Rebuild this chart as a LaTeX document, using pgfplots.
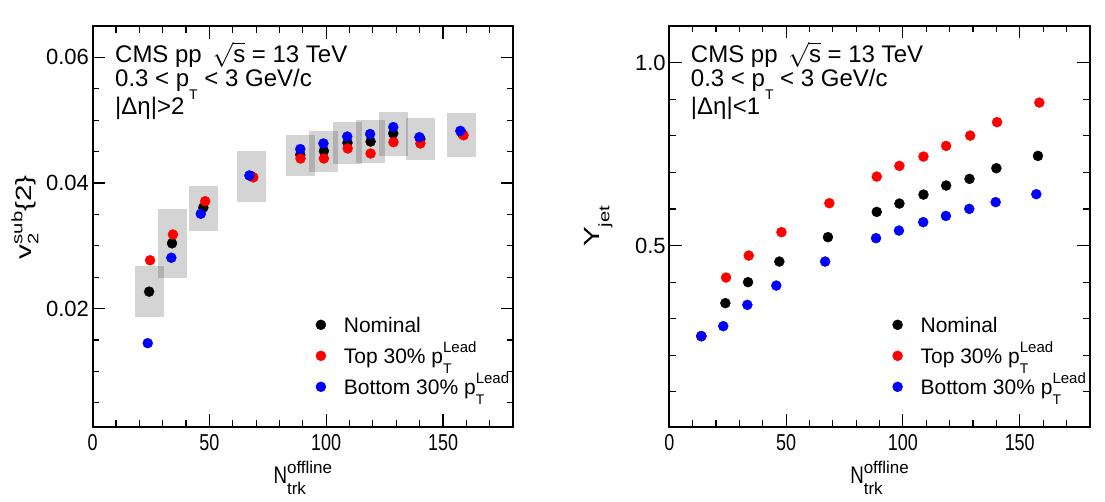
\documentclass[border=0pt]{standalone}
\usepackage{graphicx}
\usepackage{pgfplots}
\pgfplotsset{compat=1.18}
\usepackage{pgfplotstable}
\usepackage{fontspec}
\setmainfont{Liberation Sans}
\newfontfamily\narrowfont[FakeStretch=0.78]{Liberation Sans}

% stacked superscript / subscript: #1 sup, #2 sub, #3 raise, #4 lower
\newcommand\SupSub[4]{\setbox0=\hbox{#1}\setbox2=\hbox{#2}\dimen0=\wd0 \ifdim\wd2>\dimen0 \dimen0=\wd2 \fi\hbox to \dimen0{\rlap{\raisebox{-#4}{\box2}}\raisebox{#3}{\box0}\hss}}
\newcommand\fs[1]{\fontsize{#1}{#1}\selectfont}

% ---------- left panel data: v2sub{2} ----------
\pgfplotstableread{
x y
24.2 0.0227
34.0 0.0304
47.4 0.0361
67.9 0.0411
88.9 0.0445
99.0 0.0451
109.1 0.0464
119.0 0.0466
128.7 0.0479
140.3 0.0470
158.1 0.0479
}\vNom
\pgfplotstableread{
x y
24.6 0.0277
34.4 0.0318
48.2 0.0371
68.8 0.0409
89.0 0.0439
99.0 0.0439
109.2 0.0455
119.0 0.0447
128.8 0.0465
140.3 0.0463
158.8 0.0476
}\vTop
\pgfplotstableread{
x y
23.6 0.0145
33.7 0.0281
46.3 0.0351
67.1 0.0412
88.9 0.0454
98.8 0.0463
109.0 0.0474
118.8 0.0478
128.7 0.0489
139.9 0.0473
157.4 0.0483
}\vBot

% ---------- right panel data: Y_jet ----------
\pgfplotstableread{
x y
13.7 0.2525
24.0 0.3426
33.7 0.4000
47.1 0.4563
67.9 0.5230
88.8 0.5920
98.5 0.6148
108.8 0.6393
118.5 0.6640
128.5 0.6822
140.0 0.7114
157.8 0.7450
}\yNom
\pgfplotstableread{
x y
13.7 0.2525
24.3 0.4126
34.0 0.4727
48.0 0.5366
68.5 0.6158
88.8 0.6885
98.5 0.7177
108.8 0.7432
118.5 0.7723
128.8 0.8005
140.3 0.8372
158.4 0.8907
}\yTop
\pgfplotstableread{
x y
13.7 0.2525
23.1 0.2798
33.4 0.3380
45.8 0.3907
66.7 0.4563
88.5 0.5202
98.3 0.5410
108.7 0.5640
118.4 0.5810
128.4 0.6003
139.7 0.6186
157.1 0.6404
}\yBot

\newcommand\sysbox[4]{\addplot[sharp plot, mark=none, draw=none, fill=black, fill opacity=0.17, forget plot] coordinates {(#1,#3) (#2,#3) (#2,#4) (#1,#4)} --cycle;}

\pgfplotsset{
  pts/.style={only marks, mark=*, mark size=5pt, mark options={fill=#1, draw=#1}, color=#1},
  cmsaxis/.style={
    scale only axis, width=420.5pt, height=400.7pt, anchor=south west,
    xmin=0, xmax=180,
    scaled ticks=false,
    xtick={0,50,100,150}, xticklabels={0,50,100,150},
    minor xtick={10,20,30,40,60,70,80,90,110,120,130,140,160,170},
    axis line style={line width=1.8pt},
    major tick length=12.5pt, minor tick length=6.5pt,
    tick style={line width=1.1pt, black},
    xticklabel style={font=\narrowfont\fs{23}, inner sep=0pt, yshift=-8pt},
    yticklabel style={font=\fs{22}, inner sep=0pt, xshift=-3.5pt},
    /pgf/number format/assume math mode=true,
    xlabel={{\narrowfont\fs{24}N}\SupSub{\fs{17}offline}{\fs{17}trk}{10pt}{11pt}},
    xlabel style={at={(axis description cs:0.5,-0.1413)}, anchor=base, inner sep=0pt},
    legend cell align=left,
    legend image code/.code={\draw[#1] plot coordinates {(0pt,0pt)};},
    legend style={draw=none, fill=none, inner sep=0pt, outer sep=0pt,
      at={(axis description cs:0.531,0.273)}, anchor=north west,
      font=\fs{21}, row sep=16pt, column sep=18pt,
      nodes={inner sep=0pt, text height=15pt, text depth=0pt}},
  }
}

\begin{document}
\begin{tikzpicture}
\path[use as bounding box] (0pt,0pt) rectangle (1105pt,501pt);

% ================= left panel =================
\begin{axis}[cmsaxis, at={(92.6pt,74.3pt)},
  ymin=0.0012, ymax=0.065,
  ytick={0.02,0.04,0.06}, yticklabels={0.02,0.04,0.06},
  minor ytick={0.005,0.01,0.015,0.025,0.03,0.035,0.045,0.05,0.055},
  ylabel={\fs{22}\scalebox{1.35}[1]{v\SupSub{\fs{15}sub}{\fs{15}2}{9pt}{7pt}\{2\}}},
  ylabel style={at={(axis description cs:-0.161,0.523)}, anchor=center, inner sep=0pt},
]
\sysbox{18.2}{30.5}{0.0186}{0.0268}
\sysbox{28.0}{40.4}{0.0249}{0.0359}
\sysbox{41.3}{53.7}{0.0324}{0.0395}
\sysbox{61.9}{74.3}{0.0370}{0.0451}
\sysbox{82.9}{95.3}{0.0411}{0.0476}
\sysbox{92.7}{105.1}{0.0418}{0.0483}
\sysbox{103.0}{115.4}{0.0431}{0.0497}
\sysbox{112.8}{125.2}{0.0432}{0.0500}
\sysbox{122.7}{135.0}{0.0443}{0.0513}
\sysbox{134.3}{146.7}{0.0436}{0.0503}
\sysbox{151.8}{164.3}{0.0442}{0.0511}
\addplot[pts=black] table[x=x,y=y] {\vNom};
\addlegendentry{Nominal}
\addplot[pts=red] table[x=x,y=y] {\vTop};
\addlegendentry{Top 30\% p\SupSub{\fs{15}Lead}{\fs{14}T}{11pt}{10pt}}
\addplot[pts=blue] table[x=x,y=y] {\vBot};
\addlegendentry{Bottom 30\% p\SupSub{\fs{15}Lead}{\fs{14}T}{11pt}{10pt}}
\node[anchor=base west, inner sep=0pt, font=\fs{24}] at (axis description cs:0.0532,0.9094) {CMS pp \,$\sqrt{\mbox{s}}$ = 13 TeV};
\node[anchor=base west, inner sep=0pt, font=\fs{24}] at (axis description cs:0.0532,0.850) {0.3 < p\SupSub{}{\fs{14}T}{0pt}{13pt} < 3 GeV/c};
\node[anchor=base west, inner sep=0pt, font=\fs{24}] at (axis description cs:0.0532,0.7787) {|Δη|>2};
\node[anchor=base east, inner sep=0pt, font=\fs{23.5}] at (axis description cs:1.0112,1.0132) {Preliminary};
\end{axis}

% ================= right panel =================
\begin{axis}[cmsaxis, at={(669.3pt,74.3pt)},
  ymin=0.005, ymax=1.1,
  ytick={0.5,1.0}, yticklabels={0.5,1.0},
  minor ytick={0.1,0.2,0.3,0.4,0.6,0.7,0.8,0.9},
  ylabel={\fs{22}\scalebox{1.35}[1]{Y\raisebox{-10pt}{\fs{15}jet}}},
  ylabel style={at={(axis description cs:-0.169,0.5)}, anchor=center, inner sep=0pt},
]
\addplot[pts=black] table[x=x,y=y] {\yNom};
\addlegendentry{Nominal}
\addplot[pts=red] table[x=x,y=y] {\yTop};
\addlegendentry{Top 30\% p\SupSub{\fs{15}Lead}{\fs{14}T}{11pt}{10pt}}
\addplot[pts=blue] table[x=x,y=y] {\yBot};
\addlegendentry{Bottom 30\% p\SupSub{\fs{15}Lead}{\fs{14}T}{11pt}{10pt}}
\node[anchor=base west, inner sep=0pt, font=\fs{24}] at (axis description cs:0.051,0.9094) {CMS pp \,$\sqrt{\mbox{s}}$ = 13 TeV};
\node[anchor=base west, inner sep=0pt, font=\fs{24}] at (axis description cs:0.051,0.850) {0.3 < p\SupSub{}{\fs{14}T}{0pt}{13pt} < 3 GeV/c};
\node[anchor=base west, inner sep=0pt, font=\fs{24}] at (axis description cs:0.051,0.7787) {|Δη|<1};
\node[anchor=base east, inner sep=0pt, font=\fs{23.5}] at (axis description cs:1.0136,1.0132) {Preliminary};
\end{axis}
\end{tikzpicture}
\end{document}
